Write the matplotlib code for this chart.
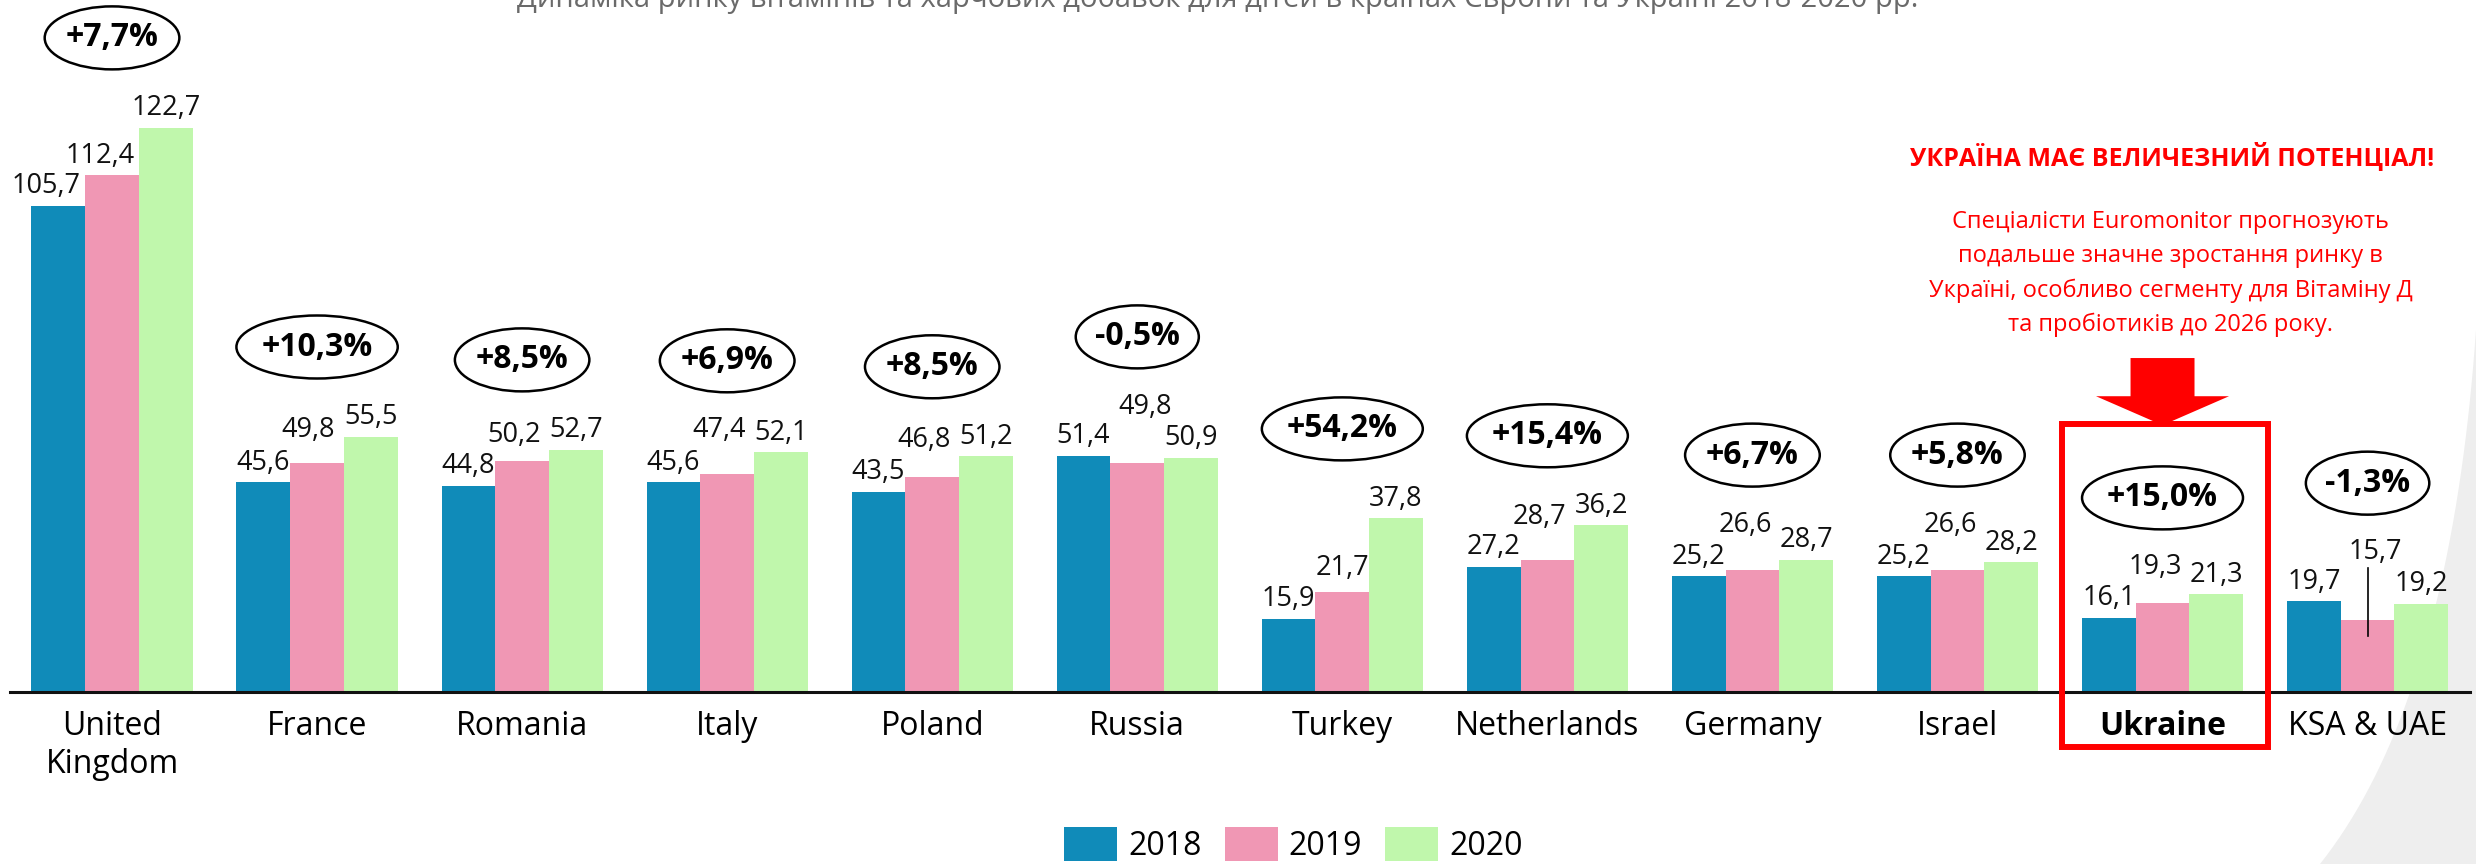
import numpy as np
import matplotlib
matplotlib.use("Agg")
import matplotlib.pyplot as plt
from matplotlib.patches import Ellipse, Rectangle, FancyArrow, Polygon

plt.rcParams['font.family'] = ['Open Sans', 'DejaVu Sans']

# ---------- Дані ----------
countries = ['United\nKingdom', 'France', 'Romania', 'Italy', 'Poland', 'Russia',
             'Turkey', 'Netherlands', 'Germany', 'Israel', 'Ukraine', 'KSA & UAE']
years = ['2018', '2019', '2020']
v2018 = [105.7, 45.6, 44.8, 45.6, 43.5, 51.4, 15.9, 27.2, 25.2, 25.2, 16.1, 19.7]
v2019 = [112.4, 49.8, 50.2, 47.4, 46.8, 49.8, 21.7, 28.7, 26.6, 26.6, 19.3, 15.7]
v2020 = [122.7, 55.5, 52.7, 52.1, 51.2, 50.9, 37.8, 36.2, 28.7, 28.2, 21.3, 19.2]
growth = ['+7,7%', '+10,3%', '+8,5%', '+6,9%', '+8,5%', '-0,5%',
          '+54,2%', '+15,4%', '+6,7%', '+5,8%', '+15,0%', '-1,3%']

title = "Динаміка ринку вітамінів та харчових добавок для дітей в країнах Європи та Україні 2018-2020 рр."
note_head = "УКРАЇНА МАЄ ВЕЛИЧЕЗНИЙ ПОТЕНЦІАЛ!"
note_body = ("Спеціалісти Euromonitor прогнозують\nподальше значне зростання ринку в\n"
             "Україні, особливо сегменту для Вітаміну Д\nта пробіотиків до 2026 року.")

colors = ['#108bb9', '#f097b4', '#c0f7ac']

# ---------- Розмітка ----------
# висота еліпсів з приростом (у одиницях осі y)
ell_y = [142.2, 75.0, 72.2, 72.0, 70.7, 77.2, 57.2, 55.7, 51.5, 51.5, 42.2, 45.4]
# зсув підписів 2019 (px): по x і по y від верху стовпця
lab19_dx = [-12, -9, -8, -8, -8, 8, 0, -8, -7, -7, -7, 8]
lab19_dy = [19, 33, 26, 44, 37, 56, 24, 43, 45, 45, 36, 68]
lab18_dx = [-12] + [0] * 11
PT = 0.72  # px -> pt при dpi=100

def fmt(v):
    return "{:.1f}".format(v).replace(".", ",")

W, H = 2476, 864
fig = plt.figure(figsize=(W / 100, H / 100), dpi=100)

# сірий фон-завиток праворуч
t = np.linspace(0, 1, 40)
p0, p1, p2 = np.array([2476, 330]), np.array([2450, 700]), np.array([2320, 864])
curve = [((1 - s) ** 2) * p0 + 2 * (1 - s) * s * p1 + s * s * p2 for s in t]
pts = [(px / W, 1 - py / H) for px, py in curve] + [(1, 0)]
fig.patches.append(Polygon(pts, closed=True, transform=fig.transFigure,
                           facecolor='#eeeeee', edgecolor='none', zorder=-10))

ax = fig.add_axes([9.5 / W, (H - 692) / H, 2460.6 / W, 692 / H])
ax.patch.set_alpha(0)
x = np.arange(len(countries))
bw = 0.262
series = [v2018, v2019, v2020]
bars = []
for k, vals in enumerate(series):
    b = ax.bar(x + (k - 1) * bw, vals, bw, color=colors[k], label=years[k], zorder=2)
    bars.append(b)

ax.set_xlim(-0.5, 11.5)
ax.set_ylim(0, 692 / 4.6)
for s in ['top', 'right', 'left']:
    ax.spines[s].set_visible(False)
ax.spines['bottom'].set_linewidth(2.2)
ax.spines['bottom'].set_color('#111111')
ax.set_yticks([])
ax.set_xticks(x)
ax.set_xticklabels(countries, fontsize=23, linespacing=1.2)
ax.tick_params(axis='x', length=0, pad=13)
ax.get_xticklabels()[10].set_fontweight('bold')

# підписи значень
for i in range(len(countries)):
    for k, vals in enumerate(series):
        dx, dy = 0, 19.5
        if k == 0:
            dx = lab18_dx[i]
        if k == 1:
            dx, dy = lab19_dx[i], lab19_dy[i]
        ax.annotate(fmt(vals[i]), (x[i] + (k - 1) * bw, vals[i]),
                    xytext=(dx * PT, dy * PT), textcoords='offset points',
                    ha='center', va='center', fontsize=19.5, color='#111111', zorder=4)
# виноска для KSA & UAE 2019
i = 10 + 1
ax.plot([x[i], x[i]], [v2019[i] - 3.5, v2019[i] + lab19_dy[i] / 4.6 - 3.6],
        color='black', lw=1.2, zorder=4)

# еліпси з приростом
fig.canvas.draw()
rend = fig.canvas.get_renderer()
for i, g in enumerate(growth):
    txt = ax.text(x[i], ell_y[i], g, ha='center', va='center', fontsize=23,
                  fontweight='bold', color='black', zorder=6)
    wpx = txt.get_window_extent(rend).width
    ax.add_patch(Ellipse((x[i], ell_y[i]), wpx * 1.45 / 205.05, 63 / 4.6,
                         facecolor='white', edgecolor='black', lw=1.8,
                         zorder=5, clip_on=False))

# червона рамка та стрілка для України
u = countries.index('Ukraine')
ax.add_patch(Rectangle((x[u] - 0.49, -11.96), 1.004, 70.2, facecolor='none',
                       edgecolor='#ff0000', lw=4.3, zorder=7, clip_on=False))
ax.add_patch(FancyArrow(x[u], 72.6, 0, -14.6, width=0.312, head_width=0.649,
                        head_length=6.3, length_includes_head=True,
                        color='#ff0000', lw=0, zorder=7, clip_on=False))

ax.text(x[u] + 0.045, 116.3, note_head, ha='center', va='center', fontsize=18,
        fontweight='bold', color='#ff0000')
ax.text(x[u] + 0.04, 90.9, note_body, ha='center', va='center', fontsize=17,
        color='#ff0000', linespacing=1.55)

fig.text(1218 / W, 1 - 7 / H, title, ha='center', va='baseline', fontsize=21,
         color='#6a6a6a')

fig.legend(handles=bars, labels=years, loc='center', bbox_to_anchor=(1293.5 / W, 19 / H),
           ncol=3, frameon=False, fontsize=23, handlelength=1.66, handleheight=1.25,
           handletextpad=0.35, columnspacing=0.72, borderpad=0)

fig.savefig("out.png", dpi=100)
